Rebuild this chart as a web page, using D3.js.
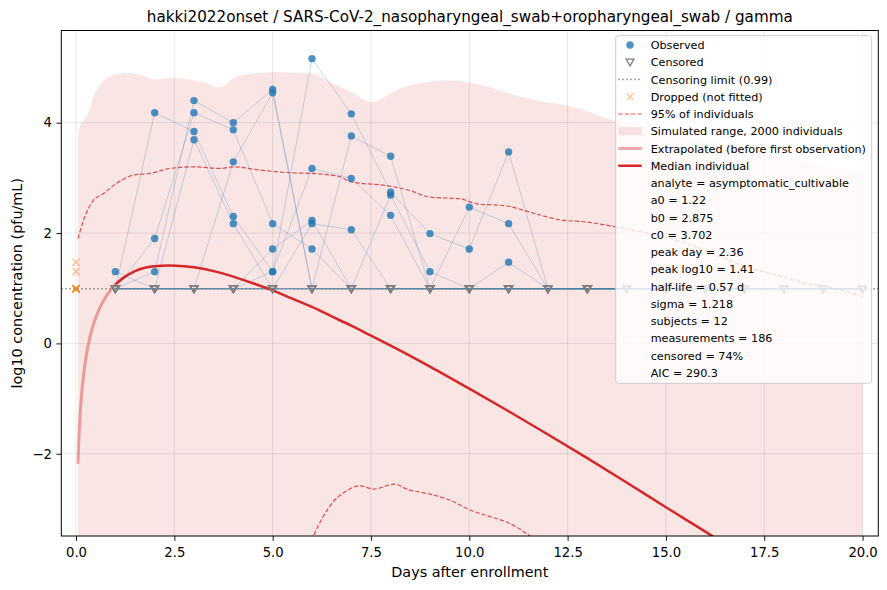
<!DOCTYPE html>
<html>
<head>
<meta charset="utf-8">
<script src="https://cdn.jsdelivr.net/npm/d3@7"></script>
<style>
  html, body { margin: 0; padding: 0; background: #fff; }
  svg { display: block; font-family: "DejaVu Sans", sans-serif; }
</style>
</head>
<body>
<svg id="chart" width="887" height="590"></svg>
<script>
// ---------------- data ----------------
const titleText = "hakki2022onset / SARS-CoV-2_nasopharyngeal_swab+oropharyngeal_swab / gamma";
const xLabel = "Days after enrollment";
const yLabel = "log10 concentration (pfu/mL)";
const xTicks = [0, 2.5, 5, 7.5, 10, 12.5, 15, 17.5, 20];
const yTicks = [-2, 0, 2, 4];
const censorLimit = 0.99;
const firstObsDay = 1.0;

// measurement days; null = censored (below limit)
const days = [1, 2, 3, 4, 5, 6, 7, 8, 9, 10, 11, 12, 13, 14, 15, 16, 17, 18, 19, 20];
const subj01 = [null, 4.18, 3.84, 2.30, 1.30, 5.16, 4.16, 2.74, 1.99, 1.71, 3.47, null, null, null, null, null, null, null, null, null];
const subj02 = [null, 1.90, 4.18, 3.87, 2.17, 1.71, null, 2.69, 1.30, null, 1.47, null, null, null, null, null, null, null, null, null];
const subj03 = [null, 1.30, 4.40, 4.00, 4.60, null, 3.76, 3.39, null, null, null, null, null, null, null, null, null, null, null, null];
const subj04 = [1.30, null, 3.69, 2.17, null, 2.17, 2.06, null, null, null, null, null, null, null, null, null, null, null, null, null];
const subj05 = [null, null, null, 3.29, 4.54, null, null, null, null, 2.47, 2.17, null, null, null, null, null, null, null, null, null];
const subj06 = [null, null, null, null, 1.71, 2.23, null, null, null, null, null, null, null, null, null, null, null, null, null, null];
const subj07 = [null, null, null, null, 1.30, 3.17, 2.99, 2.32, null, null, null, null, null, null, null, null, null, null, null, null];
const subj08 = [null, null, null, null, null, null, null, null, null, null, null, null, null, null, null, null, null, null, null, null];
const subj09 = [null, null, null, null, null, null, null, null, null, null, null, null, null, null, null, null, null, null, null, null];
const subj10 = [null, null, null, null, null, null, null, null, null, null, null, null, null, null, null, null, null, null, null, null];
const subj11 = [null, null, null, null, null, null, null, null, null, null, null, null, null, null, null, null, null, null, null, null];
const subj12 = [null, null, null, null, null, null, null, null, null, null, null, null, null, null, null, null, null, null, null, null];
const subjects = [subj01, subj02, subj03, subj04, subj05, subj06, subj07, subj08, subj09, subj10, subj11, subj12];

// dropped (day 0) measurements
const droppedDays = [0, 0, 0, 0, 0, 0, 0, 0];
const droppedVals = [0.99, 0.99, 0.99, 0.99, 0.99, 0.99, 1.30, 1.47];

// median individual curve
const medDays = [0.05, 0.07, 0.1, 0.14, 0.2, 0.27, 0.35, 0.45, 0.6, 0.8, 1.0, 1.25, 1.5, 1.75, 2.0, 2.36, 2.75, 3.0, 3.5, 4.0, 4.5, 5.0, 5.5, 6.0, 6.5, 7.0, 7.5, 8.0, 9.0, 10.0, 11.0, 12.0, 13.0, 14.0, 15.0, 16.0, 17.0];
const medVals = [-2.18, -1.77, -1.34, -0.94, -0.52, -0.18, 0.10, 0.36, 0.64, 0.89, 1.07, 1.21, 1.31, 1.37, 1.40, 1.41, 1.40, 1.38, 1.31, 1.21, 1.09, 0.96, 0.81, 0.66, 0.49, 0.32, 0.14, -0.04, -0.42, -0.82, -1.23, -1.65, -2.08, -2.52, -2.97, -3.41, -3.87];

// 95% of individuals (upper and lower)
const hiDays = [0.05, 0.19, 0.44, 0.69, 1.03, 1.46, 1.88, 2.39, 3.0, 3.66, 4.0, 4.68, 5.52, 6.0, 6.71, 6.97, 7.98, 8.49, 9.0, 9.76, 10.19, 10.95, 11.63, 12.3, 12.98, 13.66, 14.5, 15.36, 16.2, 17.0, 17.9, 18.6, 19.1, 19.5, 20.0];
const hiVals = [1.90, 2.23, 2.59, 2.71, 2.90, 3.05, 3.08, 3.17, 3.20, 3.17, 3.20, 3.14, 3.09, 3.08, 3.02, 2.93, 2.85, 2.77, 2.65, 2.62, 2.53, 2.49, 2.36, 2.24, 2.20, 2.12, 2.00, 1.85, 1.62, 1.40, 1.22, 1.08, 1.02, 0.96, 0.84];
const loDays = [5.8, 6.03, 6.54, 6.84, 7.22, 7.56, 8.11, 8.41, 9.0, 9.51, 10.02, 10.53, 10.99, 11.54, 11.9];
const loVals = [-3.90, -3.50, -2.87, -2.69, -2.58, -2.64, -2.55, -2.64, -2.73, -2.84, -3.02, -3.14, -3.25, -3.49, -3.70];

// simulated range of 2000 individuals (top edge; bottom is below the axis)
const simDays = [0.05, 0.12, 0.25, 0.35, 0.45, 0.6, 0.8, 1.0, 1.29, 1.63, 2.02, 2.39, 2.98, 3.3, 3.64, 4.08, 4.5, 5.02, 5.5, 6.0, 6.54, 7.0, 7.52, 8.24, 8.8, 9.51, 10.2, 10.78, 11.3, 11.8, 12.48, 13.1, 13.66, 14.5, 15.5, 16.5, 17.5, 18.5, 19.5, 20.0];
const simTop = [3.78, 3.98, 4.08, 4.25, 4.48, 4.68, 4.82, 4.87, 4.90, 4.87, 4.78, 4.81, 4.77, 4.72, 4.64, 4.83, 4.89, 4.92, 4.91, 4.89, 4.71, 4.56, 4.37, 4.62, 4.72, 4.77, 4.70, 4.58, 4.47, 4.39, 4.31, 4.18, 4.04, 3.90, 3.75, 3.60, 3.45, 3.30, 3.15, 3.10];
const simBottom = [-4.5, -4.5, -4.5, -4.5, -4.5, -4.5, -4.5, -4.5, -4.5, -4.5, -4.5, -4.5, -4.5, -4.5, -4.5, -4.5, -4.5, -4.5, -4.5, -4.5, -4.5, -4.5, -4.5, -4.5, -4.5, -4.5, -4.5, -4.5, -4.5, -4.5, -4.5, -4.5, -4.5, -4.5, -4.5, -4.5, -4.5, -4.5, -4.5, -4.5];

const legendLabels = ["Observed", "Censored", "Censoring limit (0.99)", "Dropped (not fitted)", "95% of individuals",
  "Simulated range, 2000 individuals", "Extrapolated (before first observation)", "Median individual"];
const statLabels = ["analyte = asymptomatic_cultivable", "a0 = 1.22", "b0 = 2.875", "c0 = 3.702", "peak day = 2.36",
  "peak log10 = 1.41", "half-life = 0.57 d", "sigma = 1.218", "subjects = 12", "measurements = 186",
  "censored = 74%", "AIC = 290.3"];

// ---------------- drawing ----------------
const BLUE = "#1f77b4", RED = "#d62728", ORANGE = "#ff7f0e", GREY = "#7f7f7f";
const svg = d3.select("#chart");
const L = 61.3, R = 878.3, T = 30.5, B = 536;
const x = d3.scaleLinear([-0.374, 20.4], [L, R]);
const y = d3.scaleLinear([-3.49, 5.67], [B, T]);

svg.append("defs").append("clipPath").attr("id", "clip")
  .append("rect").attr("x", L).attr("y", T).attr("width", R - L).attr("height", B - T);
const plot = svg.append("g").attr("clip-path", "url(#clip)");

// simulated range
const simData = simDays.map((d, i) => ({ d, hi: simTop[i], lo: simBottom[i] }));
plot.append("path").datum(simData)
  .attr("d", d3.area().x(p => x(p.d)).y0(p => y(p.lo)).y1(p => y(p.hi)).curve(d3.curveMonotoneX))
  .attr("fill", RED).attr("fill-opacity", 0.12);

// grid
const grid = plot.append("g");
grid.selectAll(".gx").data(xTicks).join("line")
  .attr("x1", d => x(d)).attr("x2", d => x(d)).attr("y1", T).attr("y2", B)
  .attr("stroke", "#000").attr("stroke-opacity", 0.12).attr("stroke-width", 0.8);
grid.selectAll(".gy").data(yTicks).join("line")
  .attr("y1", d => y(d)).attr("y2", d => y(d)).attr("x1", L).attr("x2", R)
  .attr("stroke", "#000").attr("stroke-opacity", 0.12).attr("stroke-width", 0.8);

// subject lines
const subjLine = d3.line().x(p => x(p.d)).y(p => y(p.v));
subjects.forEach(s => {
  const pts = days.map((d, i) => ({ d, v: s[i] === null ? censorLimit : s[i] }));
  plot.append("path").datum(pts).attr("d", subjLine)
    .attr("fill", "none").attr("stroke", BLUE).attr("stroke-opacity", 0.25).attr("stroke-width", 1);
});

// censoring limit
plot.append("line").attr("x1", L).attr("x2", R).attr("y1", y(censorLimit)).attr("y2", y(censorLimit))
  .attr("stroke", GREY).attr("stroke-width", 1.3).attr("stroke-dasharray", "1.4,2.6");

// 95% lines
const ln = d3.line().x(p => x(p[0])).y(p => y(p[1])).curve(d3.curveMonotoneX);
plot.append("path").datum(hiDays.map((d, i) => [d, hiVals[i]])).attr("d", ln)
  .attr("fill", "none").attr("stroke", RED).attr("stroke-opacity", 0.8).attr("stroke-width", 1.2)
  .attr("stroke-dasharray", "4.4,2");
plot.append("path").datum(loDays.map((d, i) => [d, loVals[i]])).attr("d", ln)
  .attr("fill", "none").attr("stroke", RED).attr("stroke-opacity", 0.8).attr("stroke-width", 1.2)
  .attr("stroke-dasharray", "4.4,2");

// median curve: extrapolated part and fitted part
const medPts = medDays.map((d, i) => [d, medVals[i]]);
plot.append("path").datum(medPts.filter(p => p[0] <= firstObsDay)).attr("d", ln)
  .attr("fill", "none").attr("stroke", RED).attr("stroke-opacity", 0.4).attr("stroke-width", 3);
plot.append("path").datum(medPts.filter(p => p[0] >= firstObsDay)).attr("d", ln)
  .attr("fill", "none").attr("stroke", RED).attr("stroke-width", 2.5);

// censored triangles
const tri = (cx, cy, s) => `M${cx - s},${cy - s * 0.8}L${cx + s},${cy - s * 0.8}L${cx},${cy + s * 0.9}Z`;
const censPts = [], obsPts = [];
subjects.forEach(s => days.forEach((d, i) => {
  if (s[i] === null) censPts.push([d, censorLimit]); else obsPts.push([d, s[i]]);
}));
plot.append("g").selectAll("path").data(censPts).join("path")
  .attr("d", p => tri(x(p[0]), y(p[1]), 4))
  .attr("fill", "none").attr("stroke", GREY).attr("stroke-width", 1.3);

// observed points
plot.append("g").selectAll("circle").data(obsPts).join("circle")
  .attr("cx", p => x(p[0])).attr("cy", p => y(p[1])).attr("r", 3.7)
  .attr("fill", BLUE).attr("fill-opacity", 0.8);

// dropped
const xMark = (cx, cy, s) => `M${cx - s},${cy - s}L${cx + s},${cy + s}M${cx - s},${cy + s}L${cx + s},${cy - s}`;
plot.append("g").selectAll("path").data(droppedDays.map((d, i) => [d, droppedVals[i]])).join("path")
  .attr("d", p => xMark(x(p[0]), y(p[1]), 3.6))
  .attr("fill", "none").attr("stroke", ORANGE).attr("stroke-opacity", 0.5).attr("stroke-width", 1.4);

// axes
const fmtX = d3.format(".1f");
const xAxis = svg.append("g").attr("transform", `translate(0,${B})`)
  .call(d3.axisBottom(x).tickValues(xTicks).tickFormat(fmtX).tickSize(4.9).tickPadding(7.2).tickSizeOuter(0));
const yAxis = svg.append("g").attr("transform", `translate(${L},0)`)
  .call(d3.axisLeft(y).tickValues(yTicks).tickFormat(d3.format("d")).tickSize(4.9).tickPadding(4.5).tickSizeOuter(0));
[xAxis, yAxis].forEach(a => {
  a.select(".domain").remove();
  a.selectAll("text").attr("font-size", 13.2).attr("font-family", "DejaVu Sans").attr("fill", "#000");
  a.selectAll("line").attr("stroke", "#000").attr("stroke-width", 0.9);
});
svg.append("rect").attr("x", L).attr("y", T).attr("width", R - L).attr("height", B - T)
  .attr("fill", "none").attr("stroke", "#000").attr("stroke-width", 1);

// labels
svg.append("text").attr("x", (L + R) / 2).attr("y", 22).attr("text-anchor", "middle")
  .attr("font-size", 15.2).text(titleText);
svg.append("text").attr("x", (L + R) / 2).attr("y", 577).attr("text-anchor", "middle")
  .attr("font-size", 14.4).text(xLabel);
svg.append("text").attr("transform", `translate(22,${(T + B) / 2}) rotate(-90)`).attr("text-anchor", "middle")
  .attr("font-size", 14.4).text(yLabel);

// legend
const lg = svg.append("g");
lg.append("rect").attr("x", 615.7).attr("y", 35.7).attr("width", 256).attr("height", 347.6).attr("rx", 3)
  .attr("fill", "#fff").attr("fill-opacity", 0.8).attr("stroke", "#cccccc").attr("stroke-width", 1);
const rowY = i => 45 + 17.25 * i;
const hx0 = 618.3, hx1 = 641.7, hxc = 630, tx = 650.7;
const allLabels = legendLabels.concat(statLabels);
lg.selectAll("text").data(allLabels).join("text")
  .attr("x", tx).attr("y", (d, i) => rowY(i)).attr("dy", "0.36em")
  .attr("font-size", 11.2).attr("fill", "#000").text(d => d);
// handles
lg.append("circle").attr("cx", hxc).attr("cy", rowY(0)).attr("r", 3.7).attr("fill", BLUE).attr("fill-opacity", 0.8);
lg.append("path").attr("d", tri(hxc, rowY(1), 4)).attr("fill", "none").attr("stroke", GREY).attr("stroke-width", 1.3);
lg.append("line").attr("x1", hx0).attr("x2", hx1).attr("y1", rowY(2)).attr("y2", rowY(2))
  .attr("stroke", GREY).attr("stroke-width", 1.3).attr("stroke-dasharray", "1.4,2.6");
lg.append("path").attr("d", xMark(hxc, rowY(3), 3.3)).attr("fill", "none").attr("stroke", ORANGE)
  .attr("stroke-opacity", 0.5).attr("stroke-width", 1.2);
lg.append("line").attr("x1", hx0).attr("x2", hx1).attr("y1", rowY(4)).attr("y2", rowY(4))
  .attr("stroke", RED).attr("stroke-opacity", 0.8).attr("stroke-width", 1.2).attr("stroke-dasharray", "4.4,2");
lg.append("rect").attr("x", hx0).attr("y", rowY(5) - 4).attr("width", hx1 - hx0).attr("height", 8)
  .attr("fill", RED).attr("fill-opacity", 0.12);
lg.append("line").attr("x1", hx0).attr("x2", hx1).attr("y1", rowY(6)).attr("y2", rowY(6))
  .attr("stroke", RED).attr("stroke-opacity", 0.4).attr("stroke-width", 3);
lg.append("line").attr("x1", hx0).attr("x2", hx1).attr("y1", rowY(7)).attr("y2", rowY(7))
  .attr("stroke", RED).attr("stroke-width", 2.5);
</script>
</body>
</html>
